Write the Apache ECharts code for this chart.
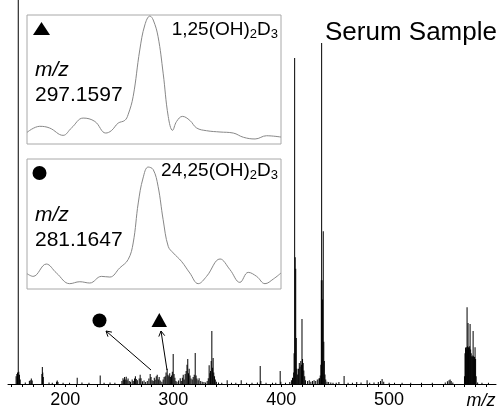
<!DOCTYPE html>
<html>
<head>
<meta charset="utf-8">
<script src="https://cdn.jsdelivr.net/npm/echarts@6/dist/echarts.min.js"></script>
<style>
    html, body { margin: 0; padding: 0; background: #fff; }
    #chart { width: 502px; height: 408px; }
</style>
</head>
<body>
<div id="chart"></div>
<script>
    // mass spectrum sticks: [m/z, relative intensity %]
    var peaksLow = [
        [154.5, 2.0], [155.2, 2.6], [155.8, 3.0], [156.5, 100], [157.0, 3.2], [157.6, 2.4], [158.3, 1.2],
        [163.0, 0.4], [166.8, 0.8], [167.6, 1.0], [168.6, 1.4], [169.4, 0.9],
        [178.4, 2.6], [178.8, 4.4], [179.2, 3.0], [179.7, 1.8],
        [185.0, 0.4], [188.0, 0.3], [192.0, 0.6], [192.6, 0.9], [193.3, 0.5], [198.0, 0.3],
        [204.0, 0.3], [211.1, 1.6], [215.5, 0.4], [222.0, 0.3], [232.4, 2.2], [236.0, 0.3], [241.5, 0.4], [246.0, 0.3]
    ]
    var peaksMid = [
        [252.5, 0.8], [253.5, 1.5], [254.2, 1.1], [255.0, 1.8], [255.6, 1.2], [256.5, 1.9], [257.3, 1.0], [258.2, 1.4],
        [259.3, 0.8], [260.5, 0.6], [262.0, 1.2], [263.0, 0.8], [264.2, 1.4], [265.0, 2.0], [265.8, 1.3], [266.8, 1.0],
        [268.5, 1.4], [269.4, 2.4], [270.2, 1.5], [271.5, 0.7], [273.0, 0.9], [274.5, 0.5], [276.0, 0.8], [277.5, 1.4],
        [278.7, 2.6], [279.5, 1.8], [280.5, 1.0], [281.5, 0.8], [282.5, 1.6], [283.3, 1.1], [284.3, 2.0], [285.2, 2.4],
        [286.2, 1.2], [287.0, 1.8], [288.0, 0.9], [289.5, 0.6], [290.7, 1.2], [291.6, 1.8], [292.6, 2.0], [293.4, 3.0],
        [294.4, 4.0], [295.2, 2.4], [296.0, 2.0], [296.8, 2.8], [297.6, 1.8], [298.4, 2.2], [299.2, 3.2], [300.0, 7.8],
        [300.8, 2.6], [301.6, 1.6], [302.5, 0.8], [303.5, 0.6], [305.0, 0.9], [306.5, 1.5], [307.5, 0.8], [308.5, 1.6],
        [309.3, 2.4], [310.2, 1.2], [311.1, 2.6], [312.0, 3.4], [312.8, 5.0], [313.5, 6.5], [314.2, 2.8], [314.8, 4.0],
        [315.6, 2.2], [316.5, 1.4], [317.6, 1.2], [318.5, 1.8], [319.5, 2.4], [320.4, 8.1], [321.2, 2.2], [322.0, 1.4],
        [323.1, 1.0], [324.0, 1.5], [325.5, 0.8], [326.9, 0.6], [328.5, 0.5], [330.0, 0.4], [331.5, 0.8], [332.5, 1.5],
        [333.3, 4.9], [334.0, 2.8], [334.6, 3.4], [335.2, 6.0], [335.8, 13.8], [336.5, 4.2], [337.0, 6.8], [337.6, 3.0],
        [338.3, 2.0], [339.0, 1.2], [340.0, 0.6], [342.0, 0.4], [345.0, 0.3], [350.0, 1.0], [354.0, 0.3]
    ]
    var peaksHigh = [
        [358.0, 0.3], [363.0, 1.0], [368.0, 0.3], [373.0, 0.3], [378.0, 0.4], [380.6, 4.7], [381.2, 0.8], [386.0, 0.3],
        [392.0, 0.3], [395.0, 0.3], [399.1, 3.4], [399.7, 0.6], [404.0, 0.3], [408.0, 0.5], [409.5, 1.0], [410.5, 1.6],
        [411.0, 1.5], [411.6, 3.0], [412.0, 8.0], [412.5, 84.9], [413.0, 33.0], [413.5, 30.0], [414.0, 12.0], [414.6, 4.0],
        [415.3, 2.5], [416.0, 4.0], [416.8, 5.5], [417.5, 4.5], [418.2, 6.0], [418.8, 5.0], [419.3, 16.9], [419.8, 6.5],
        [420.4, 5.5], [421.0, 3.5], [421.8, 2.0], [422.6, 1.0], [424.5, 0.8], [426.0, 1.0], [427.5, 0.6], [429.0, 0.8],
        [430.5, 1.0], [432.0, 0.8], [433.5, 1.2], [435.0, 1.4], [435.5, 1.5], [436.2, 2.2], [436.8, 5.0], [437.2, 27.0],
        [437.5, 88.8], [437.9, 27.0], [438.4, 22.0], [439.0, 39.8], [439.5, 11.0], [440.0, 6.0], [440.6, 2.5], [441.3, 1.2],
        [442.5, 0.6], [444.0, 0.5], [446.0, 0.4], [448.0, 0.3], [451.0, 0.3], [453.5, 0.5], [458.3, 2.1], [462.0, 0.3],
        [466.0, 0.3], [470.0, 0.5], [474.0, 0.4], [479.6, 1.0], [482.0, 0.3], [486.0, 0.4], [490.0, 0.5], [492.0, 0.8],
        [493.5, 1.3], [495.0, 0.6], [500.0, 0.3], [505.0, 0.3], [512.0, 0.3], [520.0, 0.3], [530.0, 0.3], [540.0, 0.3],
        [552.0, 0.4], [554.0, 0.7], [555.5, 1.0], [556.5, 1.2], [557.5, 0.8], [559.0, 0.4]
    ]
    var peaksCluster = [
        [569.8, 2.0], [570.3, 8.0], [570.8, 9.5], [571.3, 9.0], [571.8, 9.6], [572.2, 20.0], [572.7, 9.8], [573.1, 15.9],
        [573.6, 9.6], [574.1, 9.4], [574.6, 9.8], [575.0, 15.6], [575.5, 9.0], [576.0, 8.0], [576.5, 7.2], [577.0, 7.0],
        [577.5, 7.4], [577.8, 13.8], [578.3, 7.2], [578.8, 7.0], [579.2, 7.0], [579.6, 9.6], [580.1, 6.5], [580.6, 2.0],
        [582.0, 0.4], [586.0, 0.3], [592.0, 0.3]
    ]

    // tick values of the m/z axis
    var tickValues = [150, 160, 170, 180, 190, 200, 210, 220, 230, 240, 250, 260, 270, 280, 290, 300, 310, 320, 330, 340,
        350, 360, 370, 380, 390, 400, 410, 420, 430, 440, 450, 460, 470, 480, 490, 500, 510, 520, 530, 540, 550, 560,
        570, 580, 590]
    var labelValues = [200, 300, 400, 500]

    // inset traces (x and y in % of the box)
    var trace297 = [
        [0, 9.0], [5.0, 13.7], [8.9, 12.4], [14.2, 6.7], [17.5, 12.4], [22.1, 20.1], [26.7, 17.5], [31.0, 8.5],
        [33.2, 10.3], [35.9, 16.2], [38.5, 18.3], [39.8, 22.7], [41.8, 36.9], [44.4, 72.9], [46.4, 92.3], [48.4, 99.2],
        [49.7, 96.1], [51.6, 83.2], [53.6, 54.9], [55.6, 21.4], [57.3, 10.6], [58.9, 17.5], [61.2, 21.4], [64.1, 18.3],
        [66.8, 12.4], [70.7, 10.3], [76.0, 9.3], [81.2, 8.5], [85.2, 5.2], [89.8, 3.9], [94.3, 6.4], [100, 5.4]
    ]
    var trace281 = [
        [0, 11.8], [2.4, 9.7], [7.6, 19.2], [11.6, 12.3], [16.8, 4.1], [20.8, 5.6], [24.7, 4.6], [29.3, 9.7],
        [32.6, 9.2], [36.5, 16.2], [39.8, 22.6], [41.8, 35.4], [43.8, 66.2], [45.7, 85.4], [47.7, 93.8], [49.7, 91.8],
        [51.6, 79.0], [53.6, 53.3], [55.6, 32.8], [57.6, 27.7], [60.8, 21.3], [64.1, 12.3], [67.4, 4.1], [70.7, 9.7],
        [76.0, 23.1], [79.9, 14.9], [83.8, 5.1], [87.1, 12.8], [90.4, 9.7], [93.7, 4.1], [97.0, 7.7], [100, 12.3]
    ]

    var FONT = '"Liberation Sans", Arial, sans-serif'

    function txt(x, y, text, size, extra) {
        var style = {
            text: text, fontFamily: FONT, fontSize: size, fill: '#000',
            align: 'left', verticalAlign: 'middle', textAlign: 'left', textVerticalAlign: 'middle'
        }
        for (var k in extra) style[k] = extra[k]
        return { type: 'text', x: x, y: y, z: 100, style: style }
    }

    // name with subscripts, right aligned
    function compound(x, y, head) {
        return txt(x, y, '{n|' + head + '}{s|2}{n|D}{s|3}', 19, {
            align: 'right', textAlign: 'right',
            rich: {
                n: { fontFamily: FONT, fontSize: 19, lineHeight: 21, color: '#000' },
                s: { fontFamily: FONT, fontSize: 13, lineHeight: 13, color: '#000', verticalAlign: 'bottom' }
            }
        })
    }

    // arrow line with an open head at the end
    function arrow(x1, y1, x2, y2) {
        var len = Math.sqrt((x2 - x1) * (x2 - x1) + (y2 - y1) * (y2 - y1))
        var ux = (x2 - x1) / len, uy = (y2 - y1) / len
        var h = 6, c = Math.cos(Math.PI / 6), s = Math.sin(Math.PI / 6)
        var a = [x2 - h * (c * ux - s * uy), y2 - h * (s * ux + c * uy)]
        var b = [x2 - h * (c * ux + s * uy), y2 - h * (-s * ux + c * uy)]
        return [
            { type: 'line', z: 100, shape: { x1: x1, y1: y1, x2: x2, y2: y2 }, style: { stroke: '#000', lineWidth: 1 } },
            { type: 'polyline', z: 100, shape: { points: [a, [x2, y2], b] }, style: { stroke: '#000', lineWidth: 1, fill: null } }
        ]
    }

    var graphics = [
        txt(325, 33, 'Serum Sample', 26),
        // inset 1
        { type: 'polygon', z: 100, shape: { points: [[33, 35], [50, 35], [41.5, 22]] }, style: { fill: '#000' } },
        compound(278, 30, '1,25(OH)'),
        txt(35, 70, 'm/z', 21, { fontStyle: 'italic' }),
        txt(35, 95, '297.1597', 21),
        // inset 2
        { type: 'circle', z: 100, shape: { cx: 39.5, cy: 173, r: 7 }, style: { fill: '#000' } },
        compound(278, 171, '24,25(OH)'),
        txt(35, 215, 'm/z', 21, { fontStyle: 'italic' }),
        txt(35, 240, '281.1647', 21),
        // markers over the spectrum
        { type: 'circle', z: 100, shape: { cx: 99.5, cy: 320.5, r: 7 }, style: { fill: '#000' } },
        { type: 'polygon', z: 100, shape: { points: [[151.5, 327], [167, 327], [159.3, 313]] }, style: { fill: '#000' } },
        // axis name
        txt(481, 401, 'm/z', 18, { fontStyle: 'italic', align: 'center', textAlign: 'center' })
    ]
    graphics = graphics.concat(arrow(151, 370, 106, 331), arrow(167, 370, 161, 331))

    var sticks = peaksLow.concat(peaksMid, peaksHigh, peaksCluster)

    var insetAxis = function (idx) {
        return { gridIndex: idx, type: 'value', min: 0, max: 100, show: false }
    }
    var insetGrid = function (top, height) {
        return {
            left: 27, top: top, width: 254, height: height,
            show: true, backgroundColor: '#fff', borderColor: '#a8a8a8', borderWidth: 1,
            outerBoundsMode: 'none'
        }
    }

    var chart = echarts.init(document.getElementById('chart'))
    chart.setOption({
        animation: false,
        backgroundColor: '#fff',
        grid: [
            { left: 8, right: 6, top: 0, bottom: 24, outerBoundsMode: 'none', containLabel: false },
            insetGrid(15, 129),
            insetGrid(159, 130)
        ],
        xAxis: [
            {
                type: 'value', min: 147, max: 599,
                axisLine: { show: true, lineStyle: { color: '#000', width: 1 } },
                axisTick: { show: true, customValues: tickValues, length: 3, lineStyle: { color: '#000' } },
                axisLabel: {
                    customValues: labelValues, margin: 7,
                    fontFamily: FONT, fontSize: 18, color: '#000'
                },
                splitLine: { show: false }
            },
            insetAxis(1),
            insetAxis(2)
        ],
        yAxis: [
            { type: 'value', min: 0, max: 100, show: false, splitLine: { show: false } },
            insetAxis(1),
            insetAxis(2)
        ],
        series: [
            {
                type: 'bar',
                data: sticks,
                barWidth: 1,
                itemStyle: { color: '#000' }
            },
            {
                type: 'line', xAxisIndex: 1, yAxisIndex: 1,
                data: trace297, smooth: 0.4, showSymbol: false,
                lineStyle: { color: '#888', width: 1 }
            },
            {
                type: 'line', xAxisIndex: 2, yAxisIndex: 2,
                data: trace281, smooth: 0.4, showSymbol: false,
                lineStyle: { color: '#888', width: 1 }
            }
        ],
        graphic: graphics
    })
</script>
</body>
</html>
